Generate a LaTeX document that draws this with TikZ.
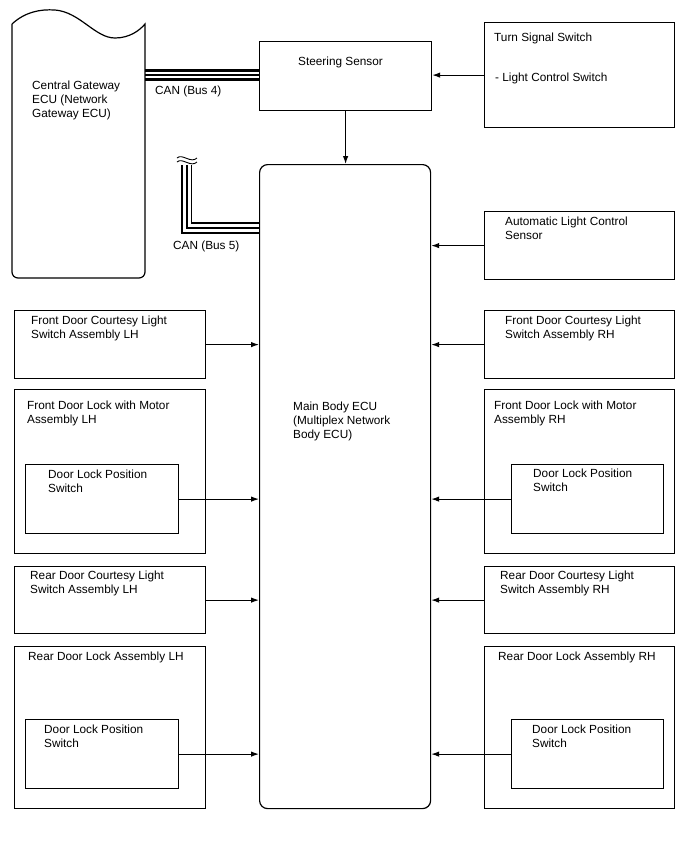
\documentclass[tikz,border=0pt]{standalone}
\usepackage{fontspec}
\setmainfont{Liberation Sans}
\usepackage{tikz}
\usetikzlibrary{arrows.meta,positioning,calc}

\tikzset{
  box/.style={draw, line width=1.2pt, rectangle, inner sep=0pt, anchor=north west},
  lbl/.style={anchor=north west, inner sep=0pt, align=left,
    font=\fontsize{11.8}{14}\selectfont},
  arr/.style={-{Latex[length=8pt,width=5.5pt]}, line width=1.1pt},
  busthick/.style={line width=2.6pt},
  busthin/.style={line width=1.1pt}
}

\begin{document}
\begin{tikzpicture}[x=1pt, y=-1pt]
	  \useasboundingbox (0,0) rectangle (688,852);
	  % gateway with torn top edge
	  \draw[line width=1.2pt] (12,24) .. controls (25,12) and (40,9) .. (55,10)
	    .. controls (80,12) and (95,38) .. (115,38)
	    .. controls (130,38) and (140,30) .. (145,24)
	    {[rounded corners=6pt] -- (145,278) -- (12,278) -- (12,24)};
	  \coordinate (gw) at (145,75);
	  \node[lbl] (gwtext) at (32,81) {Central Gateway\\ECU (Network\\Gateway ECU)};

	  % top row
	  \node[box, minimum width=172pt, minimum height=69pt] (steer) at (259,41) {};
	  \node[lbl] (steertext) at (298,57) {Steering Sensor};
	  \node[box, minimum width=190pt, minimum height=105pt] (tss) at (484,22) {};
	  \node[lbl] (tsstext) at (494,33) {Turn Signal Switch};
	  \node[lbl] (lcstext) at (495,73) {- Light Control Switch};

	  % main ecu
	  \node[box, rounded corners=8pt, minimum width=171pt, minimum height=644pt] (ecu) at (259,164) {};
	  \node[lbl] (ecutext) at (293,402) {Main Body ECU\\(Multiplex Network\\Body ECU)};

	  % right column
	  \node[box, minimum width=190pt, minimum height=68pt] (alcs) at (484,211) {};
	  \node[lbl] (alcstext) at (505,217) {Automatic Light Control\\Sensor};
	  \node[box, minimum width=190pt, minimum height=68pt] (fdcrh) at (484,310) {};
	  \node[lbl] (fdcrhtext) at (505,316) {Front Door Courtesy Light\\Switch Assembly RH};
	  \node[box, minimum width=190pt, minimum height=164pt] (fdlrh) at (484,389) {};
	  \node[lbl] (fdlrhtext) at (494,401) {Front Door Lock with Motor\\Assembly RH};
	  \node[box, minimum width=152pt, minimum height=69pt] (fdprh) at (511,464) {};
	  \node[lbl] (fdprhtext) at (533,469) {Door Lock Position\\Switch};
	  \node[box, minimum width=190pt, minimum height=67pt] (rdcrh) at (484,566) {};
	  \node[lbl] (rdcrhtext) at (500,571) {Rear Door Courtesy Light\\Switch Assembly RH};
	  \node[box, minimum width=190pt, minimum height=162pt] (rdlrh) at (484,646) {};
	  \node[lbl] (rdlrhtext) at (498,652) {Rear Door Lock Assembly RH};
	  \node[box, minimum width=152pt, minimum height=69pt] (rdprh) at (511,719) {};
	  \node[lbl] (rdprhtext) at (532,725) {Door Lock Position\\Switch};

	  % left column
	  \node[box, minimum width=191pt, minimum height=68pt] (fdclh) at (14,310) {};
	  \node[lbl] (fdclhtext) at (31,316) {Front Door Courtesy Light\\Switch Assembly LH};
	  \node[box, minimum width=191pt, minimum height=164pt] (fdllh) at (14,389) {};
	  \node[lbl] (fdllhtext) at (27,401) {Front Door Lock with Motor\\Assembly LH};
	  \node[box, minimum width=153pt, minimum height=69pt] (fdplh) at (25,464) {};
	  \node[lbl] (fdplhtext) at (48,470) {Door Lock Position\\Switch};
	  \node[box, minimum width=191pt, minimum height=67pt] (rdclh) at (14,566) {};
	  \node[lbl] (rdclhtext) at (30,571) {Rear Door Courtesy Light\\Switch Assembly LH};
	  \node[box, minimum width=191pt, minimum height=162pt] (rdllh) at (14,646) {};
	  \node[lbl] (rdllhtext) at (28,652) {Rear Door Lock Assembly LH};
	  \node[box, minimum width=153pt, minimum height=69pt] (rdplh) at (25,719) {};
	  \node[lbl] (rdplhtext) at (44,725) {Door Lock Position\\Switch};

	  % CAN bus 4
	  \draw[busthick] ([yshift=4.5pt]gw) -- ([yshift=4.5pt]gw -| steer.west);
	  \draw[busthin] (gw) -- (gw -| steer.west);
	  \draw[busthick] ([yshift=-4.5pt]gw) -- ([yshift=-4.5pt]gw -| steer.west);
	  \node[lbl] (bus4) at (155,86) {CAN (Bus 4)};

	  % CAN bus 5
	  \coordinate (b5top) at (187,165);
	  \coordinate (b5end) at (259,228);
	  \draw[busthick] ([xshift=-5pt]b5top) |- ([yshift=-5pt]b5end);
	  \draw[busthin] (b5top) |- (b5end);
	  \draw[line width=1.5pt] ([xshift=4.5pt]b5top) |- ([yshift=5pt]b5end);
	  \draw[line width=0.9pt] (177,158) .. controls (182,153) and (191,164) .. (197,158);
	  \draw[line width=0.9pt] (177,162) .. controls (182,157) and (191,168) .. (197,162);
	  \node[lbl] (bus5) at (173,241) {CAN (Bus 5)};

	  % signals into the ECU
	  \draw[arr] (tss.west) -- (tss.west -| steer.east);
	  \draw[arr] (steer.south) -- (steer.south |- ecu.north);
	  \draw[arr] (alcs.west) -- (alcs.west -| ecu.east);
	  \draw[arr] (fdcrh.west) -- (fdcrh.west -| ecu.east);
	  \draw[arr] (fdprh.west) -- (fdprh.west -| ecu.east);
	  \draw[arr] (rdcrh.west) -- (rdcrh.west -| ecu.east);
	  \draw[arr] (rdprh.west) -- (rdprh.west -| ecu.east);
	  \draw[arr] (fdclh.east) -- (fdclh.east -| ecu.west);
	  \draw[arr] (fdplh.east) -- (fdplh.east -| ecu.west);
	  \draw[arr] (rdclh.east) -- (rdclh.east -| ecu.west);
	  \draw[arr] (rdplh.east) -- (rdplh.east -| ecu.west);
	\end{tikzpicture}
\end{document}
